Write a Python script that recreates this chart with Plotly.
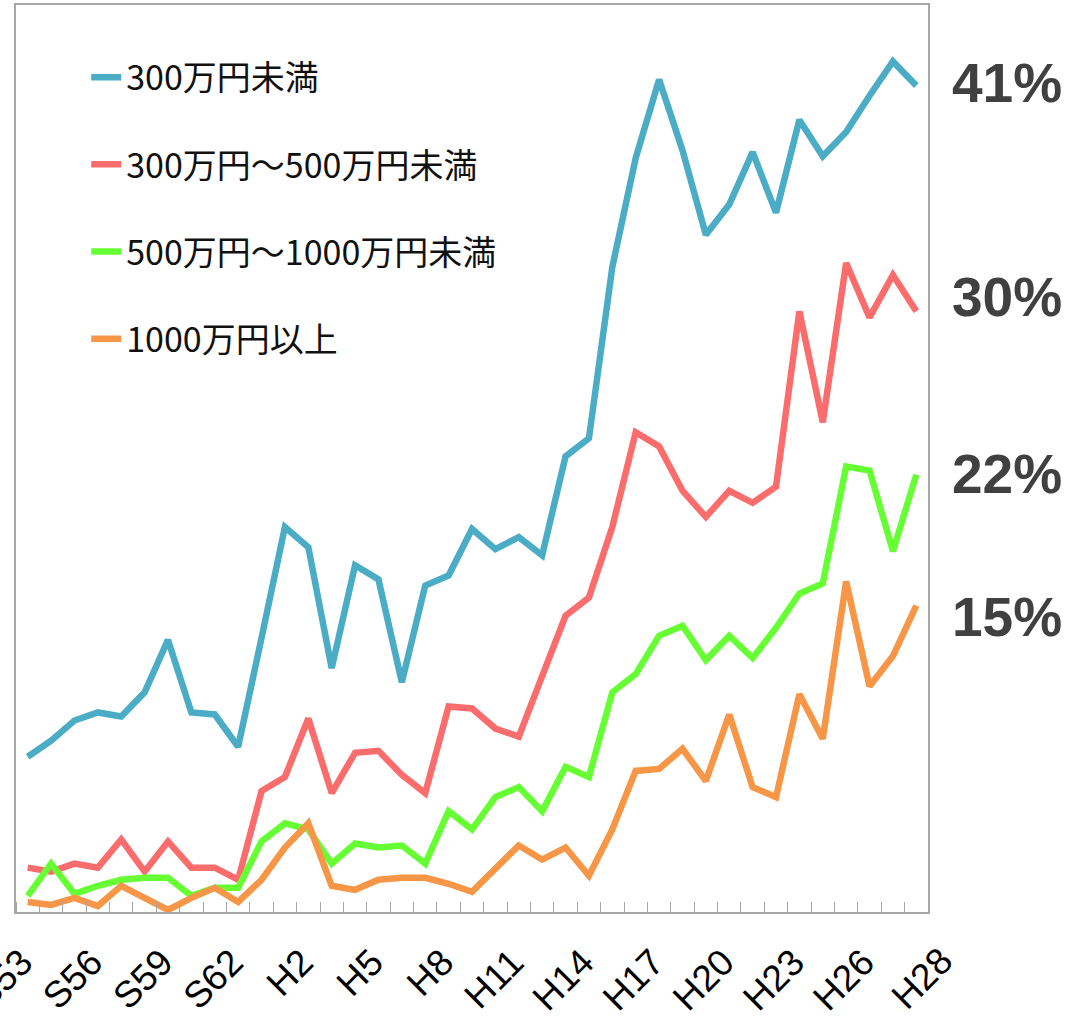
import plotly.graph_objects as go

years = ["S53", "S54", "S55", "S56", "S57", "S58", "S59", "S60", "S61", "S62",
         "S63", "H1", "H2", "H3", "H4", "H5", "H6", "H7", "H8", "H9",
         "H10", "H11", "H12", "H13", "H14", "H15", "H16", "H17", "H18", "H19",
         "H20", "H21", "H22", "H23", "H24", "H25", "H26", "H27", "H28"]

tick_labels = ["S53", "S56", "S59", "S62", "H2", "H5", "H8", "H11", "H14",
               "H17", "H20", "H23", "H26", "H28"]

under_300 = [7.7, 8.5, 9.5, 9.9, 9.7, 10.9, 13.5, 9.9, 9.8, 8.2,
             13.6, 19.1, 18.1, 12.1, 17.2, 16.5, 11.4, 16.2, 16.7, 19.0,
             18.0, 18.6, 17.7, 22.6, 23.5, 32.0, 37.4, 41.3, 37.8, 33.6,
             35.1, 37.7, 34.7, 39.3, 37.5, 38.7, 40.5, 42.2, 41.0]

from_300_to_500 = [2.2, 2.0, 2.4, 2.2, 3.6, 2.0, 3.5, 2.2, 2.2, 1.6,
                   6.0, 6.7, 9.6, 5.9, 7.9, 8.0, 6.8, 5.9, 10.2, 10.1,
                   9.1, 8.7, 11.7, 14.7, 15.6, 19.1, 23.8, 23.1, 20.9, 19.6,
                   20.9, 20.3, 21.1, 29.8, 24.3, 32.2, 29.5, 31.6, 29.8]

from_500_to_1000 = [0.8, 2.4, 0.9, 1.3, 1.6, 1.7, 1.7, 0.8, 1.2, 1.2,
                    3.5, 4.4, 4.1, 2.4, 3.4, 3.2, 3.3, 2.4, 5.0, 4.1,
                    5.7, 6.2, 5.0, 7.2, 6.7, 10.9, 11.8, 13.7, 14.2, 12.5,
                    13.7, 12.6, 14.1, 15.8, 16.3, 22.1, 21.9, 17.9, 21.7]

over_1000 = [0.5, 0.35, 0.7, 0.3, 1.3, 0.7, 0.1, 0.7, 1.2, 0.5,
             1.6, 3.2, 4.4, 1.3, 1.1, 1.6, 1.7, 1.7, 1.4, 1.0,
             2.2, 3.3, 2.6, 3.2, 1.8, 4.1, 7.0, 7.1, 8.1, 6.5,
             9.8, 6.2, 5.7, 10.8, 8.6, 16.4, 11.2, 12.7, 15.2]

end_labels = ["41%", "30%", "22%", "15%"]
end_label_values = [41, 30, 22, 15]

series_names = ["300万円未満", "300万円～500万円未満", "500万円～1000万円未満", "1000万円以上"]
series_values = [under_300, from_300_to_500, from_500_to_1000, over_1000]
series_colors = ["#4BACC6", "#FB6D6D", "#66FF33", "#F79646"]

x_idx = list(range(len(years)))
tick_pos = [years.index(t) for t in tick_labels]

tick_font = dict(family="Liberation Sans, Arial, sans-serif", size=37, color="#000000")

fig = go.Figure()
for i, (name, vals, col) in enumerate(zip(series_names, series_values, series_colors)):
    fig.add_trace(go.Scatter(
        x=x_idx, y=vals, mode="lines", name=name,
        line=dict(color=col, width=6.5),
        legendgroup=f"g{i}",
        customdata=years,
        hovertemplate="%{customdata}: %{y}%<extra>" + name + "</extra>",
    ))

label_shifts = [3, 10, -5, -7]
for txt, v, ys in zip(end_labels, end_label_values, label_shifts):
    fig.add_annotation(
        x=1.024, xref="paper", y=v, yref="y", yshift=ys, text=txt, showarrow=False,
        xanchor="left", yanchor="middle",
        font=dict(family="Liberation Sans, Arial, sans-serif", size=55,
                  color="#404040", weight="bold"),
    )

# The last year label sits a little further right in the original, set apart from H26
fig.add_annotation(
    x=tick_pos[-1], xref="x", y=0, yref="paper", text=tick_labels[-1],
    showarrow=False, textangle=-45, xanchor="right", yanchor="top",
    xshift=47, yshift=-25, font=tick_font,
)

fig.update_layout(
    width=1072, height=1019,
    margin=dict(l=16, r=144, t=5, b=107),
    paper_bgcolor="white", plot_bgcolor="white",
    showlegend=True,
    legend=dict(
        x=0.077, y=0.952, xanchor="left", yanchor="top",
        bgcolor="rgba(0,0,0,0)", borderwidth=0,
        font=dict(family="Noto Sans CJK JP", size=34, color="#111111"),
        tracegroupgap=40,
    ),
    xaxis=dict(
        range=[-0.5, len(years) - 0.5],
        automargin=False,
        tickmode="array", tickvals=tick_pos[:-1], ticktext=tick_labels[:-1],
        tickangle=-45, ticks="", ticklabelstandoff=12, ticklabelshift=-6,
        ticklabeloverflow="allow",
        tickfont=tick_font,
        showgrid=False, zeroline=False,
        showline=True, mirror=True, linecolor="#A6A6A6", linewidth=1.5,
        minor=dict(tickmode="linear", tick0=0.5, dtick=1, ticks="inside",
                   ticklen=10, tickcolor="#A6A6A6", tickwidth=1.2, showgrid=False),
    ),
    yaxis=dict(
        range=[0, 45], showticklabels=False, ticks="",
        automargin=False,
        showgrid=False, zeroline=False,
        showline=True, mirror=True, linecolor="#A6A6A6", linewidth=1.5,
    ),
)

fig.write_html("out.html", config={"displayModeBar": False},
               post_script="document.body.style.margin='0';")
